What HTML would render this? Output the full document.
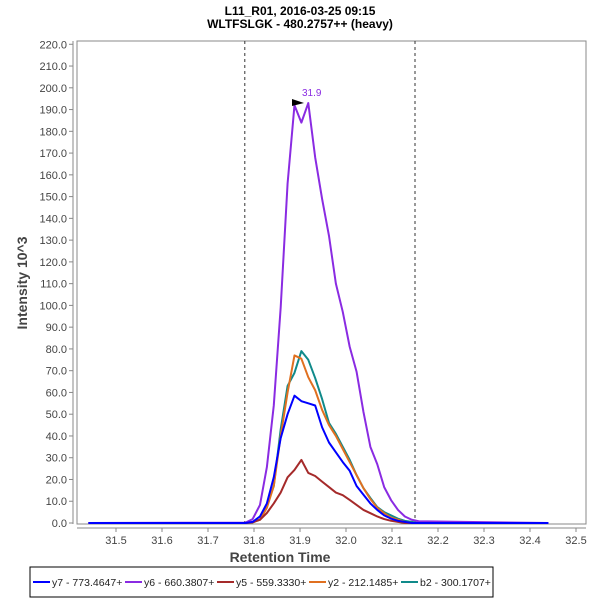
<!DOCTYPE html>
<html><head><meta charset="utf-8"><style>
body{margin:0;background:#fff;font-family:"Liberation Sans",sans-serif}
svg{display:block}
</style></head><body>
<svg id="chart" width="600" height="600" font-family="Liberation Sans, sans-serif">
<rect width="600" height="600" fill="#fff"/>
<text x="300" y="15" text-anchor="middle" font-size="12" font-weight="bold">L11_R01, 2016-03-25 09:15</text>
<text x="300" y="28" text-anchor="middle" font-size="12" font-weight="bold">WLTFSLGK - 480.2757++ (heavy)</text>
<rect x="77" y="41" width="509" height="483" fill="#fff" stroke="#888"/>
<line x1="73" y1="41" x2="73" y2="524" stroke="#888"/>
<line x1="77" y1="528" x2="586" y2="528" stroke="#888"/>
<g id="yt"></g><g id="xt"></g><g id="marks"></g>
<text x="280" y="562" text-anchor="middle" font-size="14" font-weight="bold" fill="#444">Retention Time</text>
<text transform="translate(27,283) rotate(-90)" text-anchor="middle" font-size="14" font-weight="bold" fill="#444">Intensity 10^3</text>
<rect x="30" y="567" width="463" height="30" fill="#fff" stroke="#000"/>
<g id="legend"></g>
</svg>
<script>
const times=[31.44,31.782,31.797,31.813,31.828,31.843,31.858,31.873,31.888,31.903,31.918,31.933,31.948,31.963,31.978,31.993,32.008,32.023,32.038,32.053,32.068,32.083,32.098,32.113,32.128,32.143,32.158,32.44];
const y7=[0,0,0.5,3,9,21,39,50,58.5,56,55,54,44,37,32.5,28,24,17,13,9,6,3.5,2,1,0.5,0,0,0];
const y6=[0,0.2,1.8,8.3,25.7,54,99,156,192,184,193,168,149,132,110,97,81,69.5,51,35,27,16.5,10.5,6,3,1.5,0.8,0];
const y5=[0,0,0.3,1.5,4.6,9,14,21,24.4,29,23,21.6,19,16.5,14,12.8,10.6,8.3,6,4.5,3,1.8,1,0.5,0,0,0,0];
const y2=[0,0,0.3,1.5,7,17,40,60,77,75.5,67,61,52,45,40,34,28,22,16,11,7,4.5,2.5,1.5,0.5,0,0,0];
const b2=[0,0,0.3,1.5,8,17,43,63,69,79,75,66.6,57,46,41,35,29,22,16,11.5,7.3,5,3.5,2,1,0.5,0,0];
const seriesNames=["y7 - 773.4647+","y6 - 660.3807+","y5 - 559.3330+","y2 - 212.1485+","b2 - 300.1707+"];
const seriesColors=["#0000ff","#8a2be2","#a52a2a","#e07020","#108a8a"];
const yTicks=[0,10,20,30,40,50,60,70,80,90,100,110,120,130,140,150,160,170,180,190,200,210,220];
const xTicks=[31.5,31.6,31.7,31.8,31.9,32.0,32.1,32.2,32.3,32.4,32.5];
const boundaries=[31.78,32.15];
const peakTime=31.9, peakVal=193;
const X=t=>116+(t-31.5)*460;
const Y=v=>523-v*2.176;
const NS="http://www.w3.org/2000/svg";
function mk(tag,parent,attrs){const e=document.createElementNS(NS,tag);for(const k in attrs)e.setAttribute(k,attrs[k]);parent.appendChild(e);return e;}
const yt=document.getElementById('yt'),xt=document.getElementById('xt'),marks=document.getElementById('marks'),lg=document.getElementById('legend');
yTicks.forEach(v=>{
 const l=mk('line',yt,{x1:69,x2:73,y1:Y(v),y2:Y(v),stroke:'#888'});
 
 
 const t=mk('text',yt,{x:67,y:Y(v)+4,'text-anchor':'end','font-size':11,fill:'#444'});
 
 
 t.textContent=v.toFixed(1);
});
xTicks.forEach(v=>{
 const l=mk('line',xt,{x1:X(v),x2:X(v),y1:528,y2:532,stroke:'#888'});
 
 
 const t=mk('text',xt,{x:X(v),y:544,'text-anchor':'middle','font-size':11,fill:'#444'});
 
 
 t.textContent=v.toFixed(1);
});
boundaries.forEach(b=>{
 const l=mk('line',marks,{x1:X(b),x2:X(b),y1:41,y2:524,stroke:'#333','stroke-dasharray':'3,3'});
 
 
});
const data=[y7,y6,y5,y2,b2];
const order=[4,3,2,1,0];
order.forEach(i=>{
 const p=mk('polyline',marks,{points:times.map((t,k)=>X(t)+','+Y(data[i][k])).join(' '),fill:'none',stroke:seriesColors[i],'stroke-width':2,'stroke-linejoin':'round'});
 
 
});
const px=X(peakTime),py=Y(peakVal);
const tri=mk('polygon',marks,{points:(px-8)+','+(py-4)+' '+(px+4)+','+(py)+' '+(px-8)+','+(py+3),fill:'#000'});


const pl=mk('text',marks,{x:px+2,y:py-7,'font-size':10,fill:'#8a2be2'});


pl.textContent=peakTime.toFixed(1);
seriesNames.forEach((n,i)=>{
 const lx=33+i*92;
 const l=mk('line',lg,{x1:lx,x2:lx+8+9,y1:582,y2:582,stroke:seriesColors[i],'stroke-width':2});
 
 
 const t=mk('text',lg,{x:lx+19,y:586,'font-size':10.5,fill:'#222'});
 
 
 t.textContent=n;
});
</script>
</body></html>
